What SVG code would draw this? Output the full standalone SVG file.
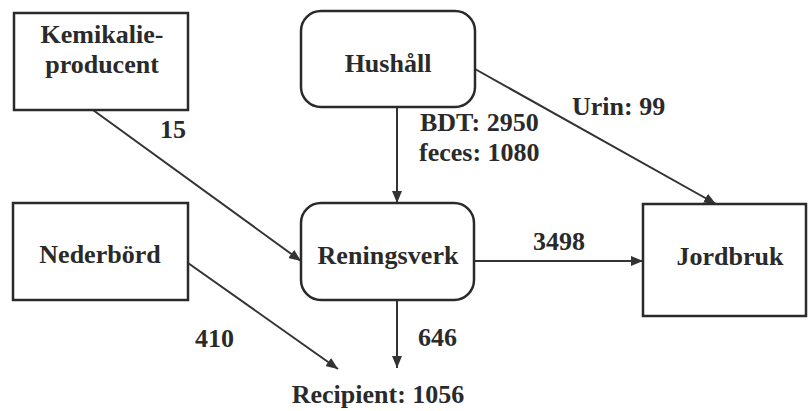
<svg xmlns="http://www.w3.org/2000/svg" width="811" height="411" viewBox="0 0 811 411">
  <style>
    .box { fill: #ffffff; stroke: #2a2a2a; stroke-width: 2.5; }
    .lbl { font-family: "Liberation Serif", "Times New Roman", serif; font-weight: bold; font-size: 26px; fill: #2a2a2a; }
    .mid { text-anchor: middle; }
    .edge { fill: none; stroke: #333333; stroke-width: 2; marker-end: url(#arrow); }
  </style>
  <defs>
    <marker id="arrow" viewBox="0 0 12 10" refX="12" refY="5" markerWidth="12" markerHeight="10" markerUnits="userSpaceOnUse" orient="auto">
      <path d="M0,0 L12,5 L0,10 Z" fill="#333333"/>
    </marker>
  </defs>
  <rect width="811" height="411" fill="#ffffff"/>

  <!-- flows -->
  <g id="connectors">
    <line class="edge" x1="93" y1="110" x2="301" y2="261"/>
    <line class="edge" x1="397" y1="107" x2="397" y2="203"/>
    <line class="edge" x1="475" y1="69" x2="716" y2="204"/>
    <line class="edge" x1="474" y1="261" x2="643" y2="261"/>
    <line class="edge" x1="397" y1="300" x2="397" y2="368"/>
    <line class="edge" x1="188" y1="263" x2="338" y2="369"/>
    <text class="lbl" x="160" y="138">15</text>
    <text class="lbl" x="420" y="131">BDT: 2950</text>
    <text class="lbl" x="419" y="161">feces: 1080</text>
    <text class="lbl" x="572" y="115">Urin: 99</text>
    <text class="lbl" x="533" y="250">3498</text>
    <text class="lbl" x="418" y="346">646</text>
    <text class="lbl" x="195" y="347">410</text>
  </g>

  <g id="kemikalieproducent">
    <rect class="box" x="14" y="13" width="174" height="97"/>
    <text class="lbl mid" x="102" y="43">Kemikalie-</text>
    <text class="lbl mid" x="102" y="73">producent</text>
  </g>

  <g id="hushall">
    <rect class="box" x="301" y="11" width="174" height="96" rx="20" ry="20"/>
    <text class="lbl mid" x="388" y="72">Hushåll</text>
  </g>

  <g id="nederbord">
    <rect class="box" x="13" y="203" width="175" height="97"/>
    <text class="lbl mid" x="100" y="263">Nederbörd</text>
  </g>

  <g id="reningsverk">
    <rect class="box" x="301" y="203" width="173" height="97" rx="20" ry="20"/>
    <text class="lbl mid" x="388" y="264" textLength="141" lengthAdjust="spacing">Reningsverk</text>
  </g>

  <g id="jordbruk">
    <rect class="box" x="643" y="204" width="163" height="112"/>
    <text class="lbl mid" x="730" y="265">Jordbruk</text>
  </g>

  <g id="recipient">
    <text class="lbl mid" x="378" y="403">Recipient: 1056</text>
  </g>
</svg>
